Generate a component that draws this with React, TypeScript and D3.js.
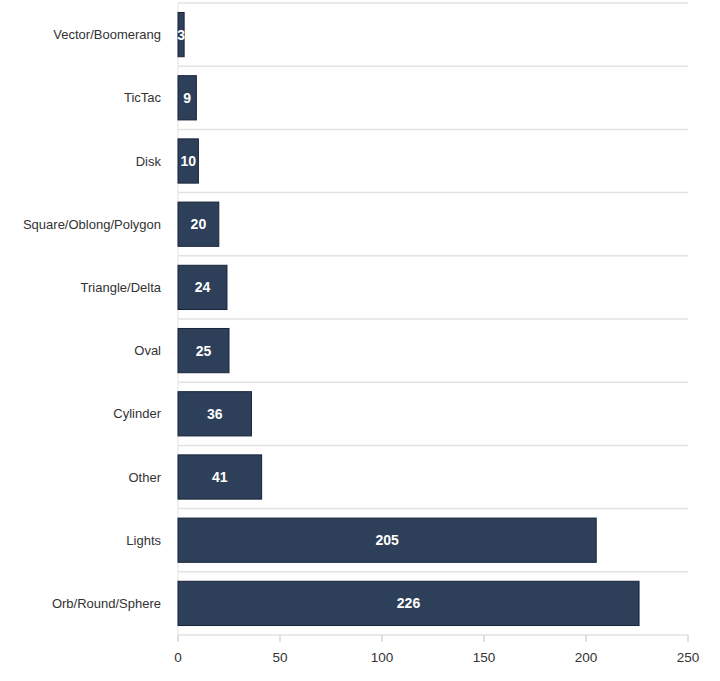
import React from 'react';
import * as d3 from 'd3';

const shapes = [
  'Vector/Boomerang',
  'TicTac',
  'Disk',
  'Square/Oblong/Polygon',
  'Triangle/Delta',
  'Oval',
  'Cylinder',
  'Other',
  'Lights',
  'Orb/Round/Sphere'
];
const counts = [3, 9, 10, 20, 24, 25, 36, 41, 205, 226];
const xTicks = [0, 50, 100, 150, 200, 250];

const width = 720;
const height = 681;
const margin = { top: 3, right: 32, bottom: 46, left: 178 };
const font = '"Liberation Sans", Arial, Helvetica, sans-serif';

export default function App() {
  const x = d3
    .scaleLinear()
    .domain([0, 250])
    .range([margin.left, width - margin.right]);

  const y = d3
    .scaleBand<string>()
    .domain(shapes)
    .range([margin.top, height - margin.bottom])
    .paddingInner(0.3)
    .paddingOuter(0.15);

  const step = y.step();
  const bottom = height - margin.bottom;
  // row separators sit halfway through the gap between bars
  const rowLines = shapes.map(s => (y(s) as number) - step * 0.15).concat([bottom]);

  return (
    <svg
      width={width}
      height={height}
      style={{ position: 'absolute', left: 0, top: 0, background: '#fff' }}
    >
      <g>
        {rowLines.map((ly, i) => (
          <line
            key={i}
            x1={margin.left}
            x2={x(250)}
            y1={ly}
            y2={ly}
            stroke="#e2e2e2"
            strokeWidth={1.5}
          />
        ))}
        <line
          x1={margin.left}
          x2={margin.left}
          y1={margin.top}
          y2={bottom}
          stroke="#e2e2e2"
          strokeWidth={1}
        />
      </g>

      <g>
        {shapes.map((s, i) => {
          const by = y(s) as number;
          const bw = x(counts[i]) - x(0);
          return (
            <g key={s}>
              <rect
                x={x(0)}
                y={by}
                width={bw}
                height={y.bandwidth()}
                fill="#2e4059"
                stroke="#17233a"
                strokeWidth={1}
              />
              <text
                x={x(0) + bw / 2}
                y={by + y.bandwidth() / 2}
                dy="0.36em"
                textAnchor="middle"
                fill="#fff"
                fontFamily={font}
                fontWeight="bold"
                fontSize={14}
              >
                {counts[i]}
              </text>
              <text
                x={margin.left - 17}
                y={by + y.bandwidth() / 2}
                dy="0.36em"
                textAnchor="end"
                fill="#333"
                fontFamily={font}
                fontSize={13}
              >
                {s}
              </text>
            </g>
          );
        })}
      </g>

      <g>
        {xTicks.map(t => (
          <g key={t} transform={`translate(${x(t)},${bottom})`}>
            <line y1={0} y2={7} stroke="#d6d6d6" strokeWidth={1.5} />
            <text
              y={22}
              dy="0.36em"
              textAnchor="middle"
              fill="#333"
              fontFamily={font}
              fontSize={13.5}
            >
              {t}
            </text>
          </g>
        ))}
      </g>
    </svg>
  );
}
